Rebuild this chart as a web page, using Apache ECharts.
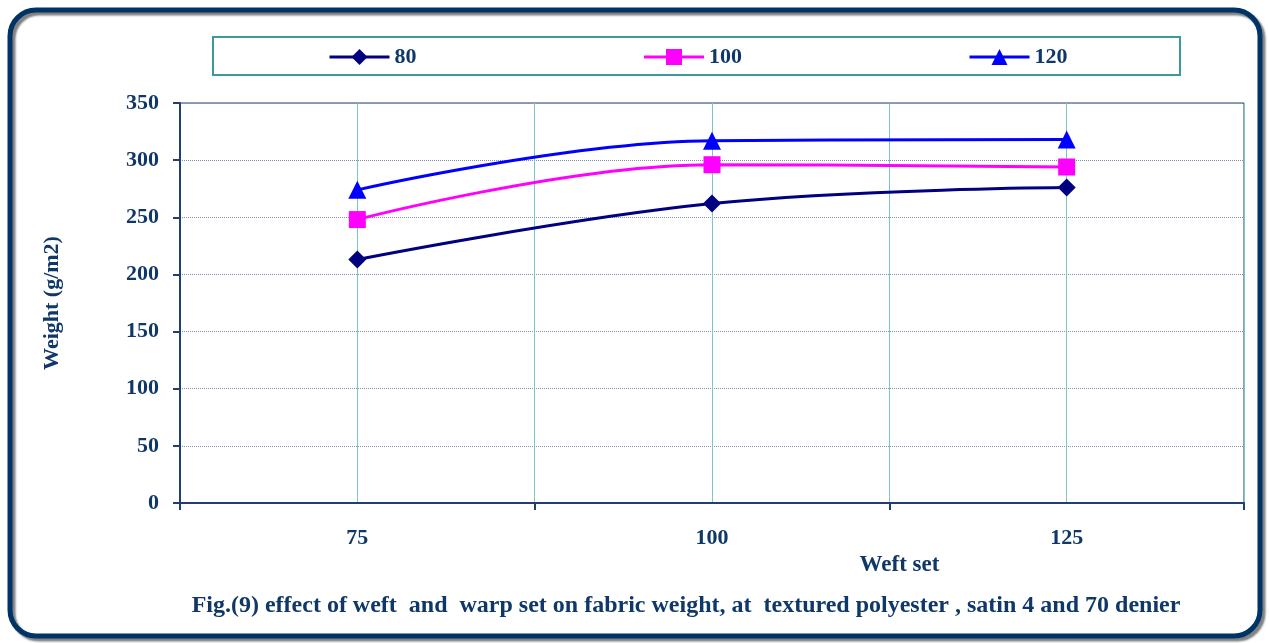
<!DOCTYPE html>
<html><head><meta charset="utf-8">
<script src="https://cdn.jsdelivr.net/npm/echarts@6/dist/echarts.min.js"></script>
<style>html,body{margin:0;padding:0;background:#fff}#c{width:1269px;height:643px}</style>
</head><body><div id="c"></div>
<script>
const weftSet = [75, 100, 125];
const seriesNames = ['80', '100', '120'];
const s80 = [213, 262, 276];
const s100 = [248, 296, 294];
const s120 = [274, 317, 318];
const yTicks = [0, 50, 100, 150, 200, 250, 300, 350];

const navy = '#0f3868';
const font = '"Liberation Serif", "Times New Roman", serif';
function pts(v){ return weftSet.map((x,i)=>[x, v[i]]); }

const chart = echarts.init(document.getElementById('c'), null, {renderer:'canvas'});
chart.setOption({
  animation:false,
  backgroundColor:'#fff',
  graphic:[
    {type:'rect', shape:{x:10,y:10,width:1250,height:626,r:26}, style:{fill:'none', stroke:'#003366', lineWidth:5, shadowColor:'rgba(0,0,0,0.5)', shadowOffsetX:3, shadowOffsetY:3, shadowBlur:2}, z:-1},
    {type:'rect', shape:{x:213,y:37,width:967,height:38}, style:{fill:'#fff', stroke:'#3a9a9a', lineWidth:2}, z:-1},
    {type:'text', x:686, y:606, style:{text:'Fig.(9) effect of weft  and  warp set on fabric weight, at  textured polyester , satin 4 and 70 denier', font:'bold 24px '+font, fill:navy, textAlign:'center', textVerticalAlign:'middle'}}
  ],
  legend:{
    left:323, top:41, itemGap:226, itemWidth:60, itemHeight:20,
    lineStyle:{width:3},
    textStyle:{fontFamily:font, fontWeight:'bold', fontSize:22, color:navy},
    data:seriesNames
  },
  grid:{left:180, right:25, top:103, bottom:140, show:true, borderColor:'#1f3f70', borderWidth:1, backgroundColor:'transparent'},
  xAxis:[
    {type:'value', min:62.5, max:137.5, interval:12.5,
     name:'Weft set', nameLocation:'middle', nameGap:51,
     nameTextStyle:{fontFamily:font, fontWeight:'bold', fontSize:23, color:navy, padding:[0,0,0,375]},
     axisLine:{show:true, lineStyle:{color:'#1f3f70', width:2}},
     axisTick:{show:false},
     splitLine:{show:true, lineStyle:{color:'#7cc6c6', width:1, type:'solid'}},
     axisLabel:{margin:24, fontFamily:font, fontWeight:'bold', fontSize:22, color:navy,
       formatter:v=> weftSet.includes(v) ? String(v) : ''}},
    {type:'value', min:62.5, max:137.5, interval:25, position:'bottom',
     axisLine:{show:false}, axisLabel:{show:false}, splitLine:{show:false},
     axisTick:{show:true, length:7, lineStyle:{color:'#1f3f70', width:2}}}
  ],
  yAxis:{type:'value', min:0, max:350, interval:50,
    name:'Weight (g/m2)', nameLocation:'middle', nameGap:117, nameRotate:90,
    nameTextStyle:{fontFamily:font, fontWeight:'bold', fontSize:22, color:navy},
    axisLine:{show:true, lineStyle:{color:'#1f3f70', width:2}},
    axisTick:{show:true, length:7, lineStyle:{color:'#1f3f70', width:2}},
    splitLine:{show:true, lineStyle:{color:'#7d90a8', width:1, type:'dotted'}},
    axisLabel:{margin:21, fontFamily:font, fontWeight:'bold', fontSize:22, color:navy,
      formatter:v=> yTicks.includes(v) ? String(v) : ''}},
  series:[
    {name:seriesNames[0], type:'line', smooth:0.4, data:pts(s80), symbol:'diamond', symbolSize:18,
     lineStyle:{color:'#000080', width:3}, itemStyle:{color:'#000080'}},
    {name:seriesNames[1], type:'line', smooth:0.4, data:pts(s100), symbol:'rect', symbolSize:17,
     lineStyle:{color:'#ff00ff', width:3}, itemStyle:{color:'#ff00ff'}},
    {name:seriesNames[2], type:'line', smooth:0.4, data:pts(s120), symbol:'triangle', symbolSize:18,
     lineStyle:{color:'#0000ff', width:3}, itemStyle:{color:'#0000ff'}}
  ]
});
</script></body></html>
